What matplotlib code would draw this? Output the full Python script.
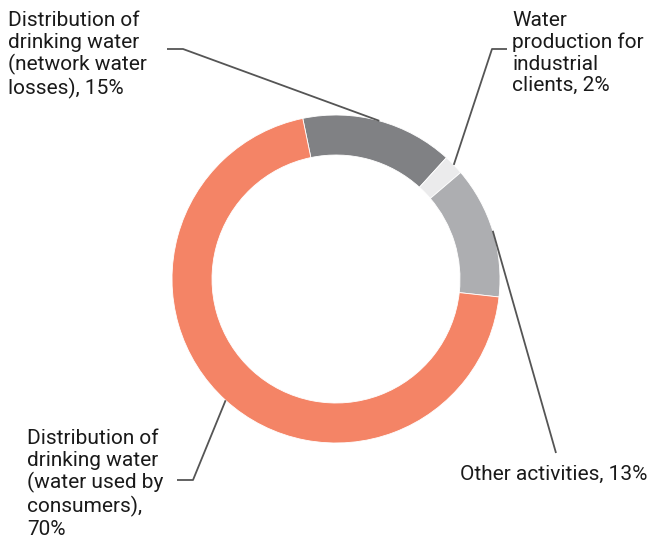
import numpy as np
import matplotlib
matplotlib.use("Agg")
import matplotlib.pyplot as plt

# Share of water by activity
categories = [
    "Distribution of\ndrinking water\n(network water\nlosses), 15%",
    "Water\nproduction for\nindustrial\nclients, 2%",
    "Other activities, 13%",
    "Distribution of\ndrinking water\n(water used by\nconsumers),\n70%",
]
shares = [15, 2, 13, 70]
colors = ["#808184", "#ebebec", "#adaeb1", "#f48466"]

W, H = 656, 538
fig = plt.figure(figsize=(W / 100, H / 100), dpi=100)
ax = fig.add_axes([0, 0, 1, 1])

cx, cy = 336, H - 279
R = 164
ring = 40
start = 101.7

wedges, _ = ax.pie(shares, colors=colors, startangle=start, counterclock=False,
                   radius=R, center=(cx, cy),
                   wedgeprops=dict(width=ring, edgecolor="white", linewidth=0.6))
ax.set_xlim(0, W)
ax.set_ylim(0, H)
ax.set_aspect("equal")
ax.axis("off")

plt.rcParams["font.family"] = ["Roboto", "DejaVu Sans"]
line_kw = dict(color="#555555", lw=1.3, solid_capstyle="butt")
txt_kw = dict(fontsize=15, color="#1a1a1a", linespacing=1.17)

# leader anchor points at the outer edge, middle of each wedge
anchors = []
for w in wedges:
    mid = np.deg2rad((w.theta1 + w.theta2) / 2)
    anchors.append((cx + R * np.cos(mid), cy + R * np.sin(mid)))

def py(y):
    return H - y

# 1: network losses
a = anchors[0]
ax.plot([a[0], 183, 167], [a[1], py(49), py(49)], **line_kw)
ax.text(8, py(11), categories[0], ha="left", va="top", **txt_kw)

# 2: industrial clients
a = anchors[1]
ax.plot([a[0], 492, 507], [a[1], py(49), py(49)], **line_kw)
ax.text(512, py(11), categories[1], ha="left", va="top", **txt_kw)

# 3: other activities
a = anchors[2]
ax.plot([a[0], 556], [a[1], py(453)], **line_kw)
ax.text(554, py(474), categories[2], ha="center", va="center", **txt_kw)

# 4: water used by consumers
a = anchors[3]
ax.plot([a[0], 193, 177], [a[1], py(480), py(480)], **line_kw)
ax.text(27, py(429), categories[3], ha="left", va="top", **txt_kw)

fig.savefig("out.png", dpi=100)
